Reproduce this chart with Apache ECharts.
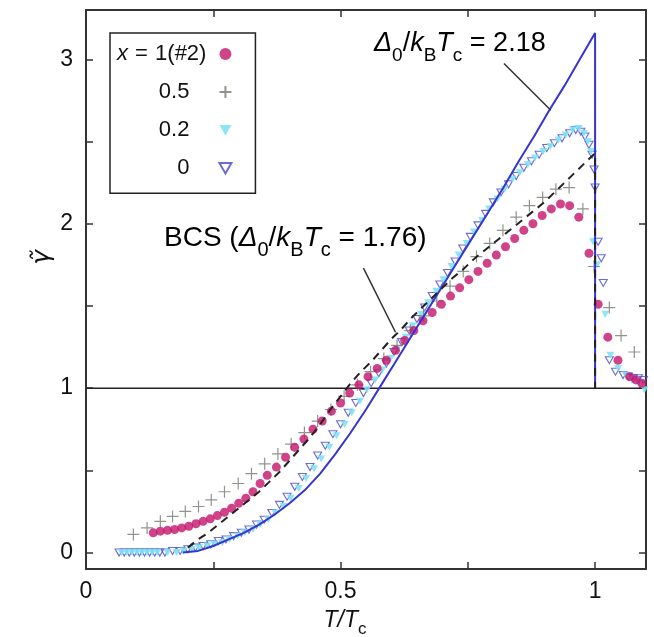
<!DOCTYPE html>
<html><head><meta charset="utf-8">
<script src="https://cdn.jsdelivr.net/npm/echarts@6/dist/echarts.min.js"></script>
<style>html,body{margin:0;padding:0;background:#fff}#c{width:654px;height:637px}</style>
</head><body><div id="c"></div>
<script>
// ---- data: [T/Tc, gamma~] ----
const seriesX1 = [[0.132,0.12],[0.146,0.13],[0.160,0.135],[0.174,0.14],[0.188,0.15],[0.202,0.16],[0.216,0.175],[0.230,0.19],[0.244,0.205],[0.258,0.225],[0.272,0.245],[0.286,0.27],[0.300,0.30],[0.314,0.33],[0.328,0.37],[0.342,0.42],[0.356,0.47],[0.374,0.52],[0.392,0.58],[0.410,0.64],[0.428,0.69],[0.446,0.75],[0.464,0.80],[0.482,0.86],[0.500,0.91],[0.518,0.97],[0.536,1.02],[0.554,1.07],[0.572,1.12],[0.590,1.17],[0.608,1.23],[0.626,1.29],[0.644,1.35],[0.662,1.41],[0.680,1.46],[0.698,1.51],[0.716,1.56],[0.734,1.61],[0.752,1.66],[0.770,1.71],[0.788,1.76],[0.806,1.81],[0.824,1.86],[0.842,1.91],[0.860,1.96],[0.878,2.00],[0.896,2.05],[0.914,2.09],[0.932,2.12],[0.950,2.11],[0.968,2.04],[0.988,1.82],[1.006,1.51],[1.025,1.31],[1.045,1.17],[1.068,1.07],[1.080,1.05],[1.092,1.03]];
const seriesX05 = [[0.093,0.11],[0.120,0.15],[0.146,0.19],[0.170,0.22],[0.195,0.25],[0.221,0.28],[0.246,0.32],[0.272,0.37],[0.299,0.42],[0.325,0.48],[0.351,0.54],[0.377,0.60],[0.403,0.66],[0.429,0.73],[0.455,0.80],[0.481,0.87],[0.507,0.95],[0.533,1.02],[0.559,1.10],[0.585,1.18],[0.611,1.26],[0.637,1.35],[0.663,1.44],[0.689,1.53],[0.715,1.62],[0.741,1.71],[0.767,1.80],[0.793,1.88],[0.819,1.96],[0.845,2.04],[0.871,2.11],[0.897,2.16],[0.923,2.21],[0.949,2.22],[0.976,2.09],[0.998,1.74],[1.028,1.49],[1.051,1.32],[1.077,1.22]];
const seriesX02 = [[0.070,0.00],[0.080,0.00],[0.090,0.00],[0.100,0.00],[0.110,0.00],[0.120,0.00],[0.130,0.00],[0.140,0.00],[0.160,0.00],[0.178,0.00],[0.192,0.01],[0.208,0.02],[0.222,0.03],[0.238,0.04],[0.252,0.05],[0.268,0.06],[0.282,0.08],[0.298,0.10],[0.312,0.12],[0.328,0.14],[0.342,0.17],[0.358,0.20],[0.372,0.24],[0.388,0.28],[0.402,0.33],[0.418,0.39],[0.432,0.45],[0.448,0.51],[0.462,0.57],[0.478,0.64],[0.492,0.71],[0.508,0.78],[0.522,0.85],[0.538,0.92],[0.552,0.99],[0.568,1.05],[0.582,1.11],[0.598,1.18],[0.612,1.24],[0.628,1.31],[0.642,1.38],[0.658,1.45],[0.672,1.52],[0.688,1.59],[0.702,1.66],[0.718,1.74],[0.732,1.81],[0.748,1.88],[0.762,1.95],[0.778,2.02],[0.792,2.09],[0.808,2.15],[0.822,2.21],[0.838,2.27],[0.852,2.31],[0.868,2.36],[0.882,2.40],[0.898,2.44],[0.912,2.47],[0.928,2.51],[0.942,2.54],[0.956,2.57],[0.968,2.58],[0.978,2.55],[0.986,2.50],[0.992,2.44],[0.996,1.89],[1.004,1.75],[1.020,1.45],[1.030,1.20],[1.045,1.12],[1.060,1.08],[1.072,1.05],[1.085,1.03],[1.097,0.99]];
const seriesX0 = [[0.065,0.00],[0.075,0.00],[0.085,0.00],[0.095,0.00],[0.105,0.00],[0.115,0.00],[0.125,0.00],[0.135,0.00],[0.145,0.00],[0.155,0.00],[0.170,0.01],[0.185,0.01],[0.200,0.02],[0.215,0.03],[0.230,0.04],[0.245,0.05],[0.260,0.07],[0.275,0.08],[0.290,0.10],[0.305,0.12],[0.320,0.14],[0.335,0.17],[0.350,0.20],[0.365,0.24],[0.380,0.29],[0.395,0.34],[0.410,0.40],[0.425,0.46],[0.440,0.52],[0.455,0.59],[0.470,0.65],[0.485,0.72],[0.500,0.78],[0.515,0.85],[0.530,0.91],[0.545,0.97],[0.560,1.03],[0.575,1.09],[0.590,1.15],[0.605,1.22],[0.620,1.28],[0.635,1.35],[0.650,1.42],[0.665,1.49],[0.680,1.56],[0.695,1.63],[0.710,1.70],[0.725,1.77],[0.740,1.85],[0.755,1.92],[0.770,1.99],[0.785,2.06],[0.800,2.13],[0.815,2.19],[0.830,2.24],[0.845,2.29],[0.860,2.34],[0.875,2.38],[0.890,2.42],[0.905,2.46],[0.920,2.49],[0.935,2.52],[0.950,2.55],[0.962,2.57],[0.972,2.56],[0.980,2.53],[0.988,2.48],[0.994,2.42],[0.998,2.33],[1.000,2.22],[1.006,1.89],[1.012,1.79],[1.016,1.64],[1.028,1.17],[1.040,1.10],[1.055,1.08],[1.065,1.07],[1.075,1.06],[1.085,1.06],[1.095,1.05]];
const alphaCurve = [[0.19,0.00],[0.22,0.01],[0.25,0.04],[0.28,0.08],[0.31,0.12],[0.34,0.17],[0.37,0.23],[0.40,0.30],[0.43,0.38],[0.46,0.48],[0.49,0.60],[0.52,0.73],[0.55,0.87],[0.58,1.02],[0.61,1.17],[0.64,1.32],[0.67,1.47],[0.70,1.62],[0.73,1.77],[0.76,1.92],[0.79,2.07],[0.82,2.22],[0.85,2.38],[0.88,2.53],[0.91,2.69],[0.94,2.84],[0.97,3.00],[1.00,3.16],[1.00,1.00]];
const bcsCurve = [[0.20,0.03],[0.22,0.08],[0.24,0.12],[0.26,0.17],[0.28,0.22],[0.30,0.27],[0.32,0.32],[0.34,0.37],[0.36,0.43],[0.38,0.49],[0.40,0.56],[0.42,0.63],[0.44,0.70],[0.46,0.78],[0.48,0.87],[0.50,0.95],[0.52,1.03],[0.54,1.10],[0.56,1.16],[0.58,1.23],[0.60,1.30],[0.62,1.36],[0.64,1.43],[0.66,1.49],[0.68,1.55],[0.70,1.61],[0.72,1.67],[0.74,1.72],[0.76,1.78],[0.78,1.83],[0.80,1.88],[0.82,1.93],[0.84,1.98],[0.86,2.03],[0.88,2.08],[0.90,2.13],[0.92,2.19],[0.94,2.25],[0.96,2.31],[0.98,2.37],[1.00,2.43],[1.00,1.00]];
const normalLine = [[0,1],[1.1,1]];
const leaderAlpha = [[0.821,2.975],[0.913,2.69]];
const leaderBCS = [[0.545,1.73],[0.608,1.34]];
const xTickValues = [0,0.25,0.5,0.75,1];
const xLabelValues = [0,0.5,1];
const yTickValues = [0,0.5,1,1.5,2,2.5,3];
const yLabelValues = [0,1,2,3];
const legendNames = ['x = 1(#2)','0.5','0.2','0'];

const FF = 'Liberation Sans';
const chart = echarts.init(document.getElementById('c'));
const axisLineStyle = {color:'#333', width:2};
const tickStyle = {color:'#333', width:1.5};
const subRich = (fs, sfs, color) => ({
  m:{fontSize:fs, fontFamily:FF, color, verticalAlign:'bottom', padding:[0,0,8,0]},
  d:{fontSize:fs, fontFamily:FF, fontStyle:'italic', color, verticalAlign:'bottom', padding:[0,0,8,0]},
  s:{fontSize:sfs, fontFamily:FF, color, verticalAlign:'bottom'}
});

chart.setOption({
  animation:false,
  textStyle:{fontFamily:FF},
  grid:{left:86, right:8, top:10, bottom:68, containLabel:false, outerBoundsMode:'none'},
  xAxis:[{
    type:'value', min:0, max:1.1, position:'bottom',
    axisLine:{onZero:false, lineStyle:axisLineStyle},
    axisTick:{inside:true, length:7, lineStyle:tickStyle, customValues:xTickValues},
    axisLabel:{customValues:xLabelValues, fontSize:23, color:'#111', margin:11, formatter:v=>String(v)},
    splitLine:{show:false},
    name:'{i|T}{n|/}{i|T}{s|c}', nameLocation:'middle', nameGap:40,
    nameTextStyle:{padding:[0,42,0,0], rich:{
      i:{fontSize:23, fontStyle:'italic', fontFamily:FF, color:'#111', verticalAlign:'bottom', padding:[0,0,6,0]},
      n:{fontSize:23, fontStyle:'italic', fontFamily:FF, color:'#111', verticalAlign:'bottom', padding:[0,0,6,0]},
      s:{fontSize:17, fontFamily:FF, color:'#111', verticalAlign:'bottom'}}}
  },{
    type:'value', min:0, max:1.1, position:'top',
    axisLine:{onZero:false, lineStyle:axisLineStyle},
    axisTick:{inside:true, length:7, lineStyle:tickStyle, customValues:xTickValues},
    axisLabel:{show:false}, splitLine:{show:false}
  }],
  yAxis:[{
    type:'value', min:-0.1, max:3.3, position:'left',
    axisLine:{onZero:false, lineStyle:axisLineStyle},
    axisTick:{inside:true, length:7, lineStyle:tickStyle, customValues:yTickValues},
    axisLabel:{customValues:yLabelValues, fontSize:23, color:'#111', margin:13, formatter:v=>String(v)},
    splitLine:{show:false}
  },{
    type:'value', min:-0.1, max:3.3, position:'right',
    axisLine:{onZero:false, lineStyle:axisLineStyle},
    axisTick:{inside:true, length:7, lineStyle:tickStyle, customValues:yTickValues},
    axisLabel:{show:false}, splitLine:{show:false}
  }],
  legend:{
    data:legendNames, orient:'vertical', align:'right', left:110, top:33,
    backgroundColor:'#fff', borderColor:'#222', borderWidth:1.5, borderRadius:0,
    padding:[10,23,14,7], itemGap:16.1, itemWidth:12, itemHeight:12,
    formatter: n => n === 'x = 1(#2)' ? '{it|x}{e| = }{n|1(#2)}' : '{p|' + n + '}',
    textStyle:{rich:{
      it:{fontSize:22, fontStyle:'italic', fontFamily:FF, color:'#111', lineHeight:22},
      e:{fontSize:22, fontFamily:FF, color:'#111', lineHeight:22, padding:[0,1,0,1]},
      n:{fontSize:22, fontFamily:FF, color:'#111', lineHeight:22, padding:[0,8,0,0]},
      p:{fontSize:22, fontFamily:FF, color:'#111', lineHeight:22, padding:[0,25,0,0]}}}
  },
  graphic:[
    {type:'text', left:374, top:30, z:100, style:{text:'{d|Δ}{s|0}{m|/}{d|k}{s|B}{d|T}{s|c}{m| = 2.18}', rich:subRich(27,19,'#2b2bcc')}},
    {type:'text', left:164, top:224, z:100, style:{text:'{m|BCS (}{d|Δ}{s|0}{m|/}{d|k}{s|B}{d|T}{s|c}{m| = 1.76)}', rich:subRich(28,20,'#111')}},
    {type:'group', left:30, top:250, z:100, children:[
      {type:'text', rotation:Math.PI/2, style:{text:'γ̃', font:'italic 25px "DejaVu Sans"', fill:'#111'}}]}
  ],
  series:[
    {name:'normal', type:'line', data:normalLine, showSymbol:false, silent:true, z:1,
      lineStyle:{color:'#222', width:1.5}},
    {name:'0', type:'scatter', data:seriesX0, symbol:'path://M0,0L10,0L5,8.66Z', symbolSize:[8,7], z:2,
      itemStyle:{color:'rgba(0,0,0,0)', borderColor:'#4747c9', borderWidth:1.1}},
    {name:'0.2', type:'scatter', data:seriesX02, symbol:'path://M0,0L10,0L5,8.66Z', symbolSize:[8,7], z:2,
      itemStyle:{color:'#80e2f4', opacity:0.9}},
    {name:'0.5', type:'scatter', data:seriesX05, symbol:'path://M5,0L5,10M0,5L10,5', symbolSize:12, z:3,
      itemStyle:{color:'rgba(0,0,0,0)', borderColor:'#737a70', borderWidth:1.2}},
    {name:'x = 1(#2)', type:'scatter', data:seriesX1, symbol:'circle', symbolSize:9, z:3,
      itemStyle:{color:'#c4146c'}},
    {name:'alpha', type:'line', data:alphaCurve, showSymbol:false, silent:true, z:5,
      lineStyle:{color:'#3535cf', width:2}},
    {name:'bcs', type:'line', data:bcsCurve, showSymbol:false, silent:true, z:5,
      lineStyle:{color:'#222', width:2, type:[8,6]}},
    {name:'leaderA', type:'line', data:leaderAlpha, showSymbol:false, silent:true, z:5,
      lineStyle:{color:'#333', width:1.5}},
    {name:'leaderB', type:'line', data:leaderBCS, showSymbol:false, silent:true, z:5,
      lineStyle:{color:'#333', width:1.5}}
  ]
});
</script></body></html>
